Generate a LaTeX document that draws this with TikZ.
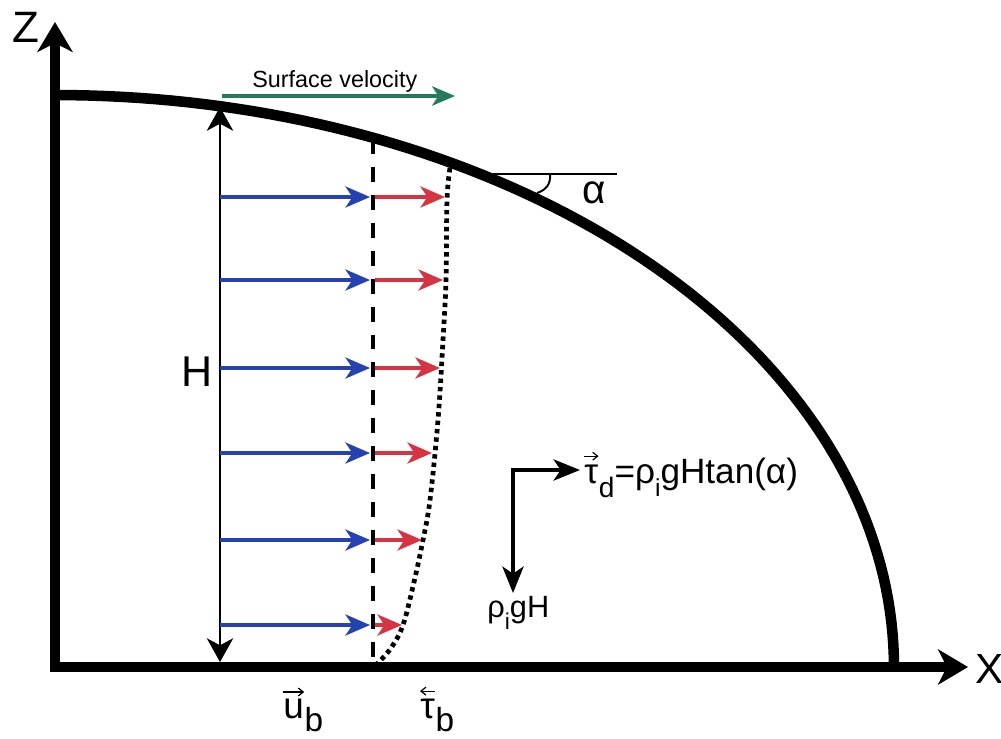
\documentclass[tikz,border=0pt]{standalone}
\usepackage{fontspec}
\setmainfont{Liberation Sans}
\usetikzlibrary{arrows.meta}
\definecolor{vblue}{RGB}{38,66,178}
\definecolor{vred}{RGB}{214,52,66}
\definecolor{vgreen}{RGB}{36,122,92}
\newcommand\fsz[1]{\fontsize{#1}{#1}\selectfont}
\newcommand\lowsub[3]{\raisebox{-#2}{\fontsize{#3}{#3}\selectfont #1}}
\begin{document}
\begin{tikzpicture}[x=0.02cm,y=-0.02cm,
  lbl/.style={inner sep=0pt, anchor=base west},
  axisline/.style={line width=5.9pt, line join=miter,
     {Stealth[length=17pt,width=20pt,inset=5pt]}-{Stealth[length=17pt,width=20pt,inset=5pt]}},
  surf/.style={line width=6pt, line cap=butt},
  harrow/.style={line width=1.4pt,
     {Stealth[length=13.5pt,width=15pt,inset=4pt]}-{Stealth[length=13.5pt,width=15pt,inset=4pt]}},
  barrow/.style={vblue, line width=1.9pt, -{Stealth[length=14pt,width=12pt,inset=4pt]}},
  rarrow/.style={vred, line width=1.9pt, -{Stealth[length=14pt,width=12pt,inset=4pt]}},
  garrow/.style={vgreen, line width=1.9pt, -{Stealth[length=13pt,width=11pt,inset=3.5pt]}},
  farrow/.style={line width=2.4pt, line join=miter,
     {Stealth[length=15pt,width=12pt,inset=4pt]}-{Stealth[length=15pt,width=12pt,inset=4pt]}},
  dashline/.style={line width=2.4pt, dash pattern=on 8.5pt off 7.4pt},
  dotline/.style={line width=2.7pt, dash pattern=on 2.5pt off 2.3pt},
  thin/.style={line width=1.1pt},
  vecarr/.style={line width=0.7pt, -{Straight Barb[length=2.8pt,width=4.5pt]}},
  vecarl/.style={line width=0.7pt, {Straight Barb[length=2.8pt,width=4.5pt]}-}]
\useasboundingbox (0,0) rectangle (1001,738);

% axes
\coordinate (ztip) at (55,22);
\coordinate (origin) at (55,667);
\coordinate (xtip) at (968,667);
\draw[axisline] (ztip) -- (origin) -- (xtip);
\node[lbl, font=\fsz{25}] (zlab) at (12,42) {Z};
\node[lbl, font=\fsz{24}] (xlab) at (975,683) {X};

% ice surface (quarter ellipse)
\draw[surf] plot[domain=90:0, samples=80, variable=\t] ({55+839*cos(\t)},{667-572*sin(\t)});

% surface velocity
\coordinate (sv1) at (222,96);
\coordinate (sv2) at (455,96);
\draw[garrow] (sv1) -- (sv2);
\node[lbl, font=\fsz{13.3}] (svlab) at (252,87) {Surface velocity};

% thickness H
\coordinate (htop) at (220,107);
\coordinate (hbot) at (220,662);
\draw[harrow] (htop) -- (hbot);
\node[lbl, font=\fsz{24.5}] (hlab) at (181,386) {H};

% dashed and dotted profiles
\coordinate (dtop) at (373,139);
\coordinate (dbot) at (373,664);
\draw[dashline] (dtop) -- (dbot);
\draw[dotline] plot[smooth, tension=0.6] coordinates {(450,168) (447,200) (446,280) (443,340) (438,420) (430,500) (423,540) (414,582) (403,625) (391,648) (377,664)};

% velocity arrows
\foreach \yy/\xt in {197/445, 280/443, 368/440, 453/432, 540/422, 625/402}{
  \coordinate (bs) at (220,\yy);
  \coordinate (bt) at (370,\yy);
  \coordinate (rs) at (375,\yy);
  \coordinate (rt) at (\xt,\yy);
  \draw[barrow] (bs) -- (bt);
  \draw[rarrow] (rs) -- (rt);
}

% slope angle
\coordinate (al1) at (493,174);
\coordinate (al2) at (617,174);
\draw[thin] (al1) -- (al2);
\coordinate (ar1) at (550,174);
\coordinate (ar2) at (537,193);
\draw[thin] (ar1) .. controls (551,184) and (546,190) .. (ar2);
\node[lbl, font=\fsz{23}] (alab) at (582,203) {α};

% driving stress
\coordinate (fdown) at (513,593);
\coordinate (fcorner) at (513,470);
\coordinate (fright) at (580,470);
\draw[farrow] (fdown) -- (fcorner) -- (fright);
\node[lbl, font=\fsz{20}] (taud) at (584,483) {τ};
\node[lbl, font=\fsz{20}] (taudrest) at (taud.base east) {\lowsub{d}{0.42em}{16}=ρ\lowsub{i}{0.38em}{14}gHtan(α)};
\draw[vecarr] ([yshift=4.5pt]taud.north west) -- ([yshift=4.5pt]taud.north east);
\node[lbl, font=\fsz{17.5}] (rgh) at (487,617) {ρ\lowsub{i}{0.4em}{13}gH};

% basal labels
\node[lbl, font=\fsz{21}] (ub) at (283,718) {u};
\node[lbl, font=\fsz{21}] (ubs) at (ub.base east) {\lowsub{b}{0.36em}{19}};
\draw[vecarr] ([yshift=3.5pt]ub.north west) -- ([yshift=3.5pt]ub.north east);
\node[lbl, font=\fsz{21}] (tb) at (420,718) {τ};
\node[lbl, font=\fsz{21}] (tbs) at (tb.base east) {\lowsub{b}{0.36em}{19}};
\draw[vecarl] ([yshift=4pt]tb.north west) -- ([yshift=4pt]tb.north east);
\end{tikzpicture}
\end{document}
